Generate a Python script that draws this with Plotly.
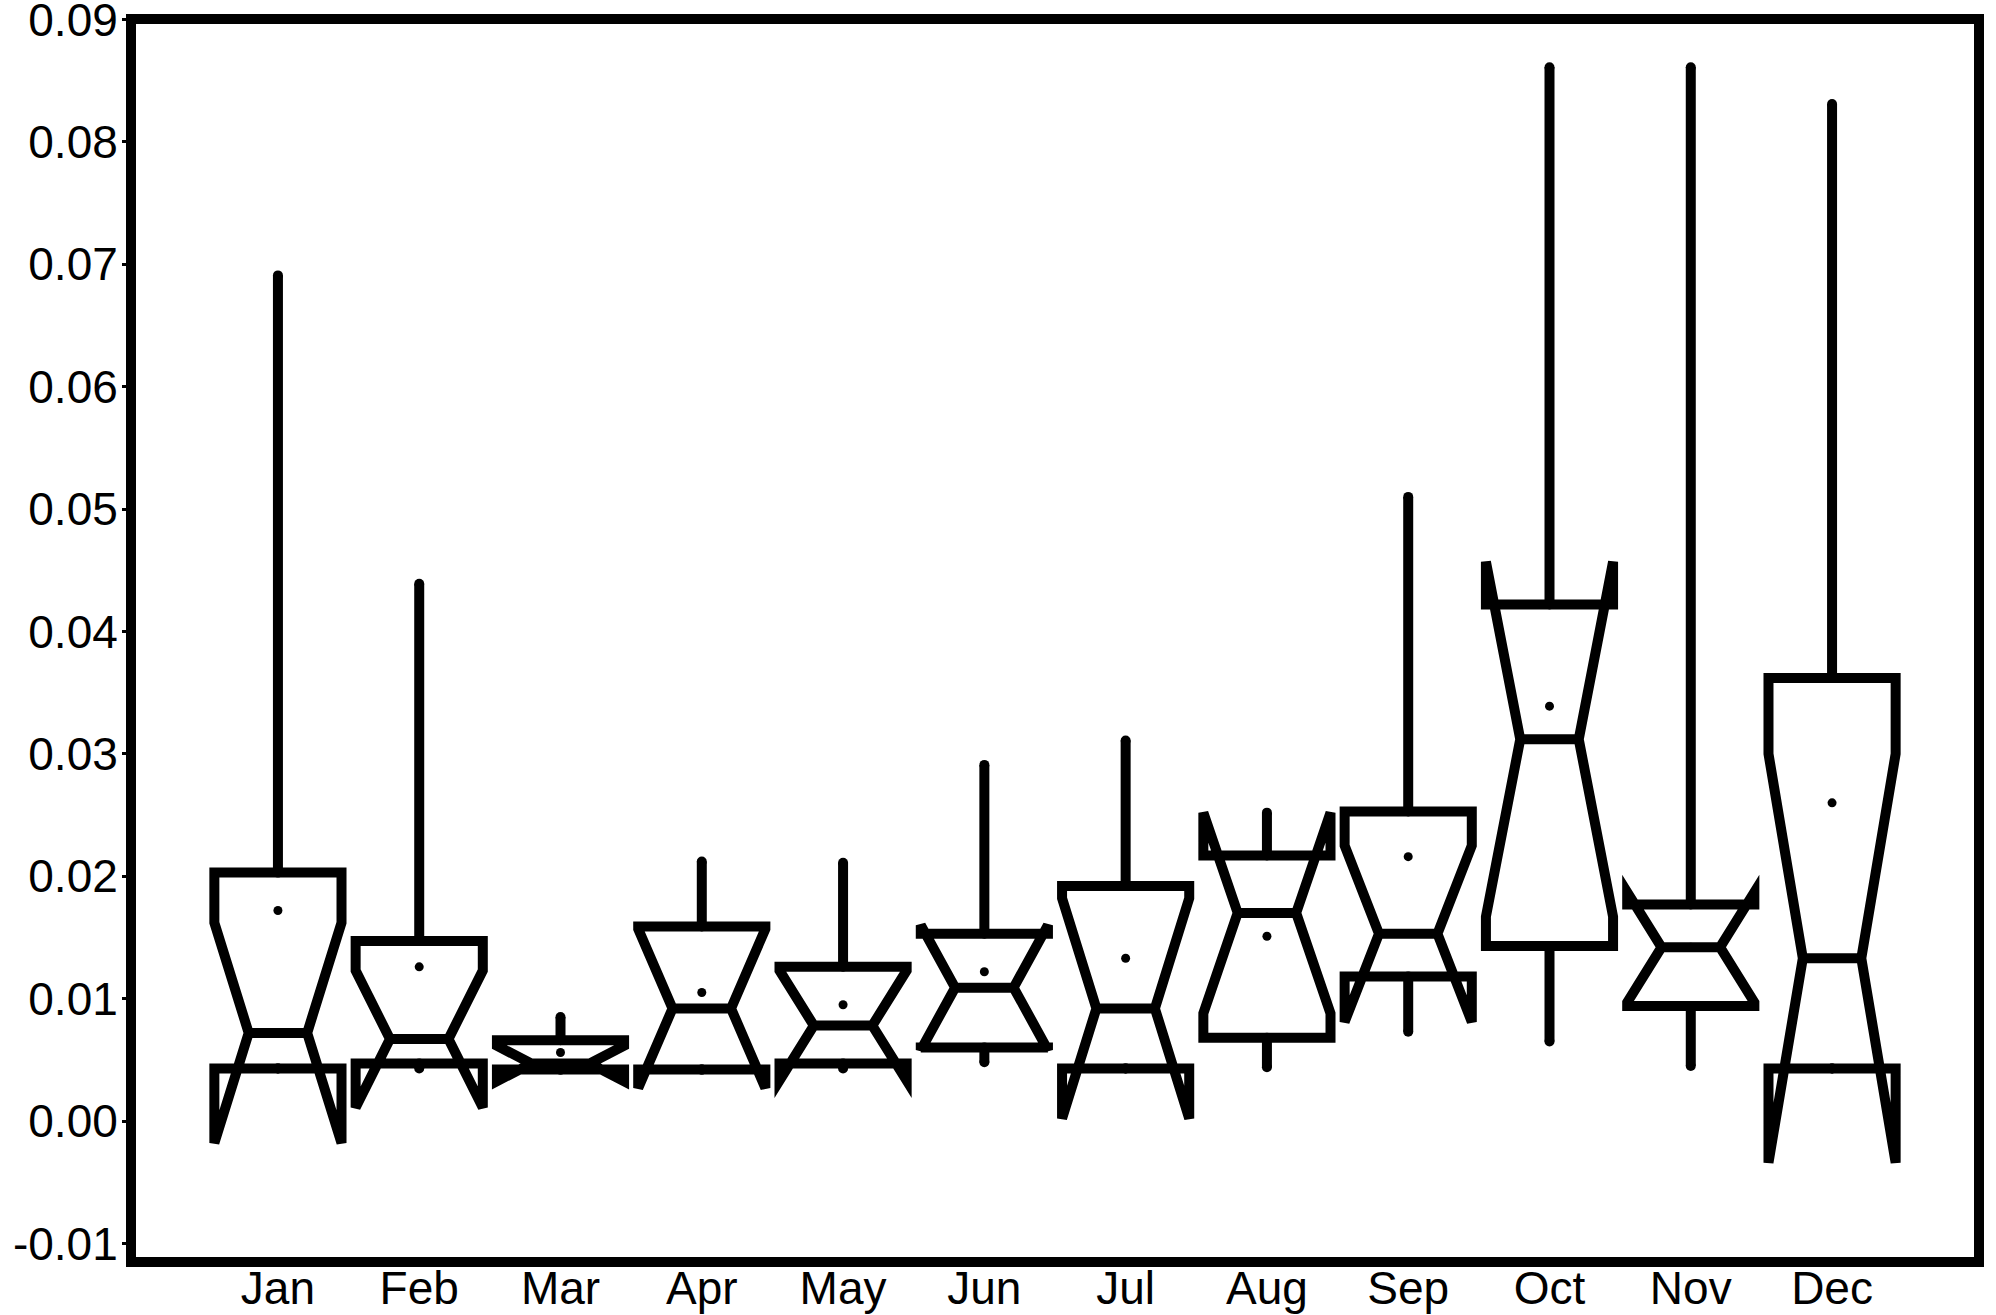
import plotly.graph_objects as go

months = ["Jan", "Feb", "Mar", "Apr", "May", "Jun", "Jul", "Aug", "Sep", "Oct", "Nov", "Dec"]
q1 = [0.0043, 0.0047, 0.0042, 0.0042, 0.0047, 0.0060, 0.0043, 0.0068, 0.0118, 0.0143, 0.0094, 0.0043]
median = [0.0072, 0.0067, 0.0047, 0.0092, 0.0078, 0.0109, 0.0092, 0.0170, 0.0153, 0.0312, 0.0142, 0.0133]
q3 = [0.0203, 0.0147, 0.0066, 0.0159, 0.0126, 0.0153, 0.0192, 0.0217, 0.0253, 0.0422, 0.0177, 0.0362]
notchspan = [0.0090, 0.0056, 0.00145, 0.0065, 0.0045, 0.0051, 0.0090, 0.0082, 0.0072, 0.0145, 0.0045, 0.0167]
lowerfence = [0.0043, 0.0043, 0.0042, 0.0042, 0.0043, 0.0048, 0.0043, 0.0044, 0.0073, 0.0065, 0.0045, 0.0043]
upperfence = [0.0691, 0.0439, 0.0085, 0.0212, 0.0211, 0.0291, 0.0311, 0.0252, 0.0510, 0.0861, 0.0861, 0.0831]
means = [0.0172, 0.0126, 0.0056, 0.0105, 0.0095, 0.0122, 0.0133, 0.0151, 0.0216, 0.0339, 0.0142, 0.0260]

y_tickvals = [-0.01, 0.00, 0.01, 0.02, 0.03, 0.04, 0.05, 0.06, 0.07, 0.08, 0.09]
y_ticktext = ["-0.01", "0.00", "0.01", "0.02", "0.03", "0.04", "0.05", "0.06", "0.07", "0.08", "0.09"]

FONT = "Liberation Sans, Arial, sans-serif"

fig = go.Figure()
fig.add_trace(go.Box(
    x=months,
    q1=q1, median=median, q3=q3,
    lowerfence=lowerfence, upperfence=upperfence,
    notchspan=notchspan, notched=True, notchwidth=0.27,
    width=0.9, whiskerwidth=0, showwhiskers=False,
    boxpoints=False,
    fillcolor="rgba(255,255,255,0)",
    line=dict(color="black", width=10),
    showlegend=False,
))

# whiskers drawn from the box edges to the fences (round end caps via markers)
wx, wy = [], []
for m, a, b, c, d in zip(months, q1, q3, lowerfence, upperfence):
    wx += [m, m, None, m, m, None]
    wy += [b, d, None, a, c, None]
fig.add_trace(go.Scatter(
    x=wx, y=wy, mode="lines+markers", line=dict(color="black", width=10),
    marker=dict(color="black", size=10, line=dict(width=0)),
    connectgaps=False, showlegend=False, hoverinfo="skip",
))

fig.add_trace(go.Scatter(
    x=months, y=means, mode="markers",
    marker=dict(color="black", size=9),
    showlegend=False,
))

fig.update_layout(
    width=1996, height=1315,
    margin=dict(l=131, r=17, t=19, b=53, autoexpand=False),
    plot_bgcolor="white", paper_bgcolor="white",
    font=dict(family=FONT, size=46, color="black"),
    xaxis=dict(type="category", categoryorder="array", categoryarray=months,
               range=[-1.04, 12.04], showgrid=False, zeroline=False, automargin=False,
               showline=False, ticks="", ticklabelstandoff=-5,
               tickfont=dict(size=46, family=FONT, color="black")),
    yaxis=dict(range=[-0.01152, 0.09005], showgrid=False, zeroline=False, showline=False,
               automargin=False,
               tickmode="array", tickvals=y_tickvals, ticktext=y_ticktext,
               ticks="outside", ticklen=8, tickwidth=3, tickcolor="black",
               ticklabeloverflow="allow", ticklabelstandoff=-5,
               tickfont=dict(size=46, family=FONT, color="black")),
    shapes=[dict(type="rect", xref="paper", yref="paper", x0=0, x1=1, y0=0, y1=1,
                 line=dict(color="black", width=10), fillcolor="rgba(0,0,0,0)", layer="above")],
)

fig.write_html("out.html",
               config={"displayModeBar": False},
               post_script="document.body.style.margin='0px';document.body.style.overflow='hidden';")
